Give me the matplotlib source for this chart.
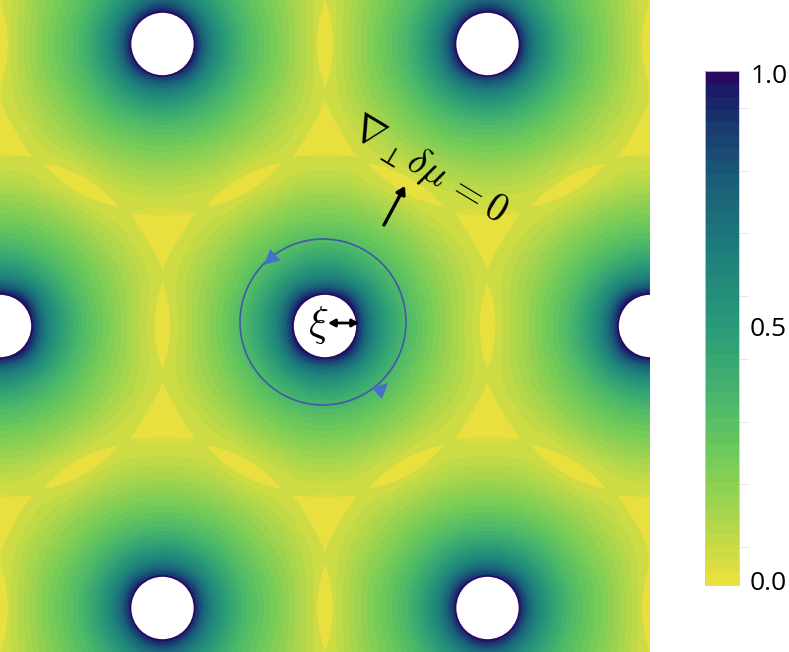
import matplotlib
matplotlib.use('Agg')
import matplotlib.pyplot as plt
import numpy as np
from matplotlib.colors import BoundaryNorm, LinearSegmentedColormap
from matplotlib.cm import ScalarMappable
from matplotlib.patches import Circle, PathPatch
from matplotlib.path import Path

# values read off the top left part of the picture, columns x=0..162, rows y=0..326
# (the picture mirrors about x=162, x=325 and y=326)
quarter = [
    [0.035, 0.1, 0.18, 0.24, 0.31, 0.4, 0.5, 0.63, 0.69],
    [0.035, 0.105, 0.195, 0.265, 0.345, 0.46, 0.65, 1.02, 1.3],
    [0.035, 0.105, 0.2, 0.275, 0.365, 0.5, 0.76, 1.3, 1.3],
    [0.035, 0.105, 0.2, 0.27, 0.355, 0.48, 0.70, 1.2, 1.3],
    [0.035, 0.1, 0.18, 0.245, 0.32, 0.42, 0.54, 0.71, 0.8],
    [0.04, 0.09, 0.15, 0.205, 0.27, 0.345, 0.42, 0.485, 0.515],
    [0.03, 0.06, 0.11, 0.165, 0.215, 0.27, 0.315, 0.35, 0.365],
    [0.03, 0.04, 0.08, 0.12, 0.165, 0.205, 0.235, 0.255, 0.265],
    [0.05, 0.055, 0.045, 0.045, 0.08, 0.13, 0.16, 0.18, 0.185],
    [0.11, 0.11, 0.07, 0.04, 0.035, 0.06, 0.095, 0.105, 0.11],
    [0.19, 0.185, 0.16, 0.12, 0.07, 0.035, 0.045, 0.05, 0.05],
    [0.26, 0.255, 0.23, 0.195, 0.15, 0.1, 0.065, 0.035, 0.03],
    [0.36, 0.345, 0.3, 0.26, 0.21, 0.15, 0.1, 0.055, 0.03],
    [0.49, 0.46, 0.395, 0.32, 0.26, 0.195, 0.135, 0.08, 0.045],
    [0.74, 0.66, 0.52, 0.395, 0.3, 0.225, 0.16, 0.09, 0.045],
    [1.3, 1.2, 0.66, 0.46, 0.34, 0.25, 0.17, 0.09, 0.035],
    [1.3, 1.3, 0.73, 0.49, 0.355, 0.255, 0.175, 0.08, 0.035],
]
vortex_x = [162.5, 487.5, 0, 325, 650, 162.5, 487.5]
vortex_y = [44, 44, 326, 326, 326, 608, 608]
# sites just off the picture, their neighbours still reach into it
outer_x = [-162.5, 812.5, -162.5, 812.5]
outer_y = [44, 44, 608, 608]
cbar_levels = np.arange(0, 41) / 40
cbar_minor = [0.074, 0.196, 0.318, 0.44, 0.562, 0.684, 0.806, 0.928]
cbar_labels = ['0.0', '0.5', '1.0']

W, H = 789, 652
colors = [(0, '#e7e03f'), (0.1, '#b5d84a'), (0.25, '#6fca5a'), (0.35, '#4bb86a'),
          (0.5, '#2a9a78'), (0.65, '#1e7f7c'), (0.8, '#1a5c78'), (0.9, '#193a70'),
          (0.975, '#1a1a66'), (1, '#2a0a5e')]
cmap = LinearSegmentedColormap.from_list('vort', colors, N=40)
norm = BoundaryNorm(cbar_levels, cmap.N, clip=True)

q = np.array(quarter)
half = np.hstack([q, q[:, -2::-1]])
top = np.hstack([half, half[:, -2::-1]])
field = np.vstack([top, top[-2::-1, :]])
dx, dy = 650 / (field.shape[1] - 1), 652 / (field.shape[0] - 1)

fig = plt.figure(figsize=(W / 100, H / 100), dpi=100)
ax = fig.add_axes([0, 0, 650 / W, 1])
ax.imshow(field, cmap=cmap, norm=norm, interpolation='bicubic', interpolation_stage='data',
          extent=(-dx / 2, 650 + dx / 2, 652 + dy / 2, -dy / 2), aspect='auto')
ax.set_xlim(0, 650)
ax.set_ylim(652, 0)
ax.axis('off')


def lens(a, b, half_len=44, half_wid=8):
    # the thin yellow lens half way between two neighbouring vortices
    mid = (a + b) / 2
    u = (b - a) / np.linalg.norm(b - a)
    n = np.array([-u[1], u[0]])
    verts = [mid + n * half_len, mid + u * half_wid * 2, mid - n * half_len,
             mid - u * half_wid * 2, mid + n * half_len]
    return Path(verts, [Path.MOVETO, Path.CURVE3, Path.CURVE3, Path.CURVE3, Path.CURVE3])


def tri(a, b, c, size=38):
    # the yellow triangle between three vortices, corners point at the bond middles
    cen = (a + b + c) / 3
    mids = [(a + b) / 2, (b + c) / 2, (c + a) / 2]
    tips = [cen + (m - cen) / np.linalg.norm(m - cen) * size for m in mids]
    verts = [tips[0]]
    codes = [Path.MOVETO]
    for i in range(3):
        p, r = tips[i], tips[(i + 1) % 3]
        verts += [cen + ((p + r) / 2 - cen) * 0.75, r]
        codes += [Path.CURVE3, Path.CURVE3]
    return Path(verts, codes)


sites = np.array(list(zip(vortex_x + outer_x, vortex_y + outer_y)), dtype=float)
pairs = []
for i in range(len(sites)):
    for j in range(i + 1, len(sites)):
        if abs(np.linalg.norm(sites[i] - sites[j]) - 325) < 12:
            pairs.append((i, j))
yellow = cmap(0)
for i, j in pairs:
    ax.add_patch(PathPatch(lens(sites[i], sites[j]), facecolor=yellow, edgecolor='none', zorder=2))
    for k in range(j + 1, len(sites)):
        if (i, k) in pairs and (j, k) in pairs:
            ax.add_patch(PathPatch(tri(sites[i], sites[j], sites[k]), facecolor=yellow, edgecolor='none', zorder=2))

for x, y in zip(vortex_x, vortex_y):
    ax.add_patch(Circle((x, y), 32, facecolor='white', edgecolor='#2a0a5e', lw=1.2, zorder=3))

# contour loop round the middle vortex
ax.add_patch(Circle((323, 322), 83, fill=False, edgecolor='#3f5aa8', lw=1.2, zorder=4))
blue_head = dict(arrowstyle='-|>,head_length=1.0,head_width=0.5', mutation_scale=11, color='#4472c4',
                 lw=0, shrinkA=0, shrinkB=0)
ax.annotate('', xy=(264, 265), xytext=(276, 254), zorder=5, arrowprops=blue_head)
ax.annotate('', xy=(388, 383), xytext=(376, 394), zorder=5, arrowprops=blue_head)

# xi and the arrows
plt.rcParams['mathtext.fontset'] = 'cm'
ax.text(318, 325, r'$\xi$', fontsize=30, ha='center', va='center', zorder=6)
ax.annotate('', xy=(359, 323), xytext=(328, 323), zorder=6,
            arrowprops=dict(arrowstyle='<|-|>,head_length=0.4,head_width=0.22', color='black', lw=2, shrinkA=0, shrinkB=0))
ax.annotate('', xy=(405, 186), xytext=(384, 225), zorder=6,
            arrowprops=dict(arrowstyle='-|>,head_length=0.45,head_width=0.28', color='black', lw=2.4, shrinkA=0, shrinkB=0))
ax.text(428, 170, r'$\nabla_\perp\delta\mu\,=0$', fontsize=28, rotation=-31, ha='center', va='center',
        rotation_mode='anchor', zorder=6)

cax = fig.add_axes([705 / W, 1 - 585 / H, 34 / W, 514 / H])
cb = fig.colorbar(ScalarMappable(norm=norm, cmap=cmap), cax=cax, spacing='proportional')
cb.outline.set_edgecolor('#cccccc')
cb.outline.set_linewidth(0.6)
cax.set_yticks([0.008, 0.503, 0.995], labels=cbar_labels, fontfamily='Open Sans', fontsize=19)
cax.set_yticks(cbar_minor, minor=True)
cax.tick_params(axis='y', which='major', length=0, pad=8)
cax.tick_params(axis='y', which='minor', length=7, width=0.6, color='#e4e4e4')

fig.savefig('out.png', dpi=100)
